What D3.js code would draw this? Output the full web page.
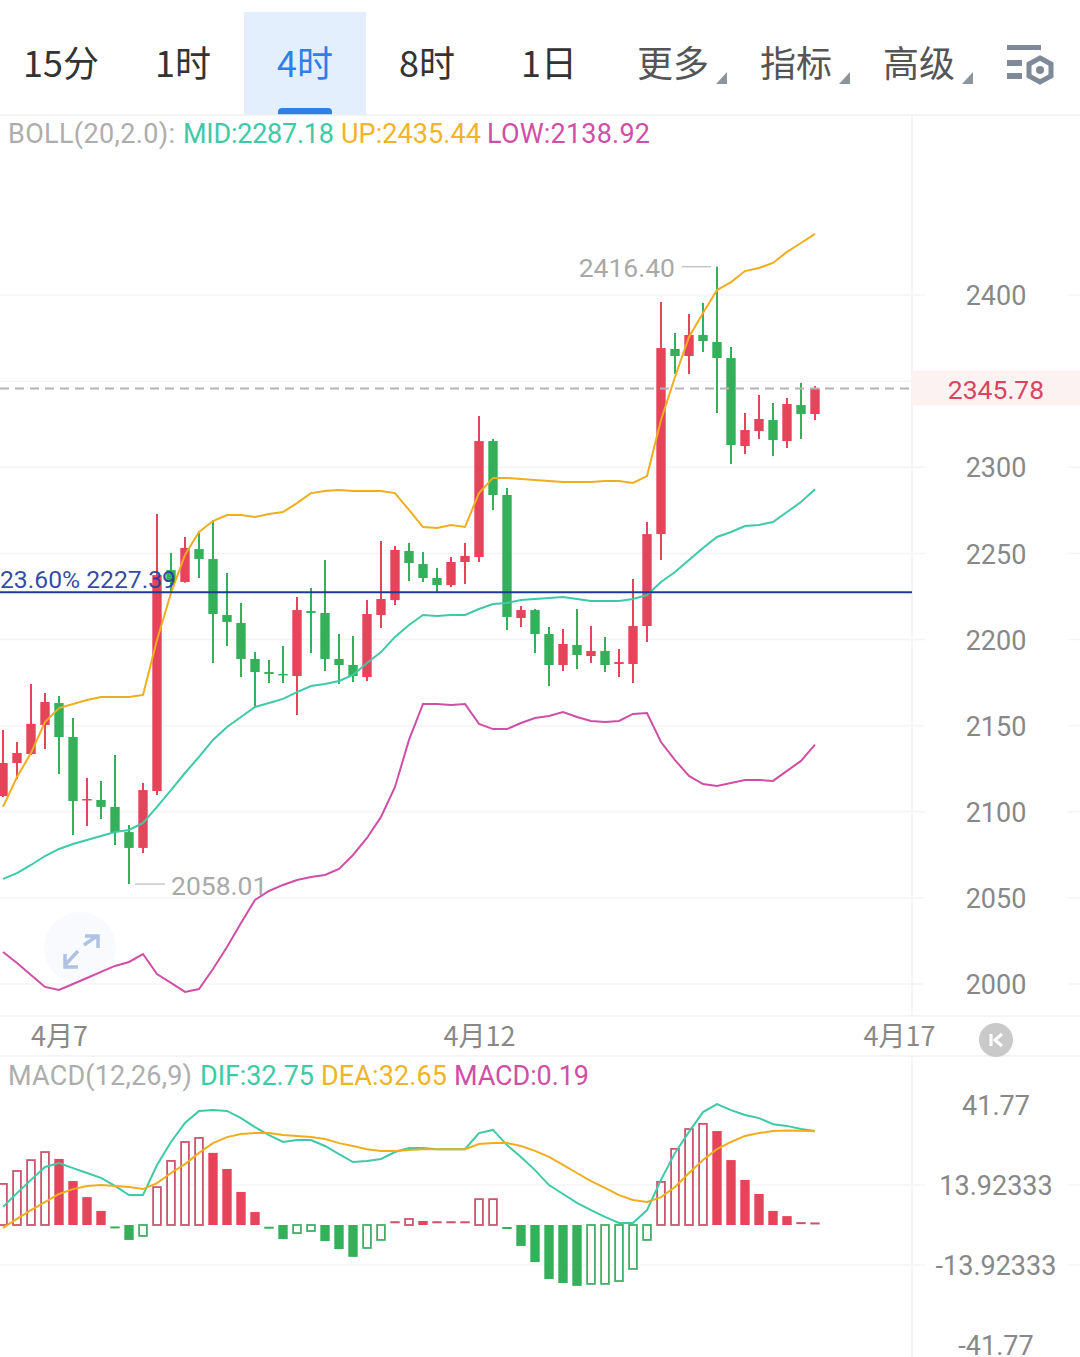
<!DOCTYPE html>
<html lang="zh">
<head>
<meta charset="utf-8">
<script src="https://d3js.org/d3.v7.min.js"></script>
<style>
    body { margin: 0; background: #fff; }
    svg { display: block; }
    text { font-family: Roboto, "Noto Sans CJK SC", sans-serif; }
    .cjk { font-family: "Noto Sans CJK SC", sans-serif; }
    .domain { display: none; }
</style>
</head>
<body>
<div id="chart"></div>
<script>
    // toolbar
    const tabs = ['15分', '1时', '4时', '8时', '1日', '更多', '指标', '高级']
    const activeTab = '4时'
    const menuTabs = ['更多', '指标', '高级']

    // ticks
    const priceTicks = [2000, 2050, 2100, 2150, 2200, 2250, 2300, 2350, 2400]
    const macdTicks = [41.77, 13.92333, -13.92333, -41.77]
    const dateTicks = [4, 34, 64]
    const dateLabels = ['4月7', '4月12', '4月17']

    // 4h candles, oldest first
    const opens = [2109.1, 2128.3, 2133.5, 2150.4, 2163.1, 2143.4, 2106.8, 2106.8, 2102.8, 2088.2, 2079, 2112, 2240.3, 2233.4, 2252.5, 2246.7, 2214.2, 2209.6, 2188.7, 2181.1, 2180, 2178.8, 2216.5, 2215.4, 2188.7, 2185.2, 2178.2, 2214.2, 2222.9, 2251.4, 2243.8, 2235.7, 2231.6, 2245, 2247.9, 2315.2, 2283.9, 2212.5, 2217.1, 2203.2, 2185.2, 2196.8, 2190.4, 2193.3, 2185.8, 2185.8, 2207.8, 2261.2, 2368.7, 2364.6, 2376.8, 2372.7, 2363.4, 2312.3, 2321, 2327.4, 2315.2, 2336.1, 2330.9]
    const closes = [2128.3, 2134.1, 2151, 2163.7, 2143.4, 2106.2, 2107.4, 2102.8, 2088.2, 2079, 2112.6, 2237.4, 2233.4, 2253.1, 2246.7, 2214.8, 2210.2, 2188.7, 2181.1, 2180, 2179.4, 2217.1, 2215.4, 2188.7, 2185.2, 2178.8, 2214.8, 2223.5, 2252, 2244.4, 2235.7, 2231.6, 2245, 2248.5, 2315.2, 2283.9, 2213.1, 2217.1, 2203.2, 2185.2, 2197.4, 2191, 2193.3, 2185.2, 2186.9, 2207.8, 2261.2, 2369.2, 2364.6, 2376.8, 2373.3, 2363.4, 2312.9, 2321.6, 2328, 2315.8, 2336.7, 2330.9, 2345.78]
    const highs = [2147.5, 2140.5, 2174.2, 2169, 2167.2, 2154.4, 2119.6, 2117.9, 2133, 2092.3, 2116.7, 2272.9, 2250.2, 2259.5, 2261.8, 2269.4, 2238.6, 2221.2, 2192.7, 2188.1, 2196.2, 2224.7, 2229.9, 2246.2, 2203.2, 2202, 2222.9, 2257.2, 2254.3, 2256, 2250.8, 2241.5, 2247.9, 2256, 2329.8, 2316.4, 2288, 2219.4, 2217.7, 2207.3, 2206.1, 2217.7, 2207.8, 2201.5, 2194.5, 2235.1, 2268.2, 2395.9, 2377.9, 2389, 2395.4, 2416.4, 2369.8, 2331.5, 2341.9, 2337.3, 2340.2, 2348.9, 2347.2]
    const lows = [2108.6, 2119, 2133, 2136.4, 2121.9, 2086.5, 2091.7, 2095.8, 2080.7, 2058.01, 2076.1, 2109.7, 2227, 2233, 2235.7, 2186.4, 2196.2, 2178.2, 2160.2, 2174.7, 2174.7, 2156.2, 2192.2, 2181.7, 2174.2, 2175.3, 2175.9, 2206.7, 2220, 2234, 2233.4, 2227.6, 2230.5, 2232.2, 2245, 2275.2, 2205.5, 2207.3, 2192.2, 2173, 2181.7, 2182.9, 2186.4, 2181.1, 2178.2, 2174.7, 2198.5, 2246.2, 2354.1, 2354.1, 2366.9, 2331.5, 2301.9, 2307.7, 2316.4, 2306.5, 2311.2, 2316.4, 2327.4]

    // bollinger bands
    const bollUp = [2102.8, 2120.2, 2134.1, 2152.1, 2160.2, 2162.6, 2164.9, 2166.6, 2166.6, 2166.6, 2167.8, 2199.7, 2227, 2249.1, 2262.4, 2268.8, 2272.3, 2272.3, 2271.1, 2272.9, 2274, 2279.2, 2285, 2286.2, 2286.8, 2286.2, 2286.2, 2286.2, 2285, 2275.2, 2265.3, 2264.7, 2266.5, 2265.3, 2285, 2293.8, 2293.8, 2293.2, 2292.6, 2292, 2291.4, 2291.4, 2291.4, 2292, 2292, 2290.9, 2294.9, 2327.4, 2352.4, 2375.6, 2389.6, 2402.9, 2407.5, 2413.9, 2415.7, 2418.6, 2425, 2430.2, 2435.44]
    const bollMid = [2061, 2064.4, 2069.1, 2074.3, 2078.4, 2081.3, 2083.6, 2085.9, 2088.2, 2089.4, 2093.5, 2102.8, 2112.6, 2122.5, 2131.8, 2141.7, 2149.2, 2155, 2160.8, 2163.1, 2165.5, 2169.5, 2173, 2174.2, 2175.9, 2179.4, 2186.4, 2192.7, 2201.5, 2208.4, 2214.2, 2213.6, 2214.2, 2214.2, 2217.7, 2220.6, 2221.2, 2222.9, 2223.5, 2224.1, 2224.7, 2223.5, 2222.4, 2222.4, 2222.4, 2223.5, 2225.8, 2233.4, 2239.2, 2246.2, 2253.1, 2259.5, 2262.4, 2265.9, 2266.5, 2268.2, 2274, 2279.8, 2287.18]
    const bollLow = [2018.6, 2012.2, 2005.2, 1998.3, 1996.5, 2000, 2003.5, 2007, 2010.5, 2012.8, 2017.4, 2005.8, 2000.6, 1995.4, 1997.1, 2008.7, 2021.5, 2035.4, 2048.8, 2054, 2057.5, 2060.4, 2062.1, 2063.3, 2066.8, 2074.9, 2084.8, 2097, 2114.4, 2141.7, 2162.6, 2162.6, 2162, 2162.6, 2151, 2148, 2148, 2151.5, 2154.4, 2155.6, 2157.9, 2155, 2152.7, 2152.1, 2152.7, 2156.8, 2157.3, 2140.5, 2130, 2120.8, 2116.1, 2115, 2116.7, 2118.4, 2118.4, 2117.9, 2123.7, 2129.5, 2138.92]

    // macd
    const macdBars = [14.3, 18.8, 22.6, 25.4, 23, 15.3, 9.7, 4.9, -0.5, -5.2, -3.8, 13.2, 22.3, 28.9, 30.3, 25.1, 19.5, 11.5, 4.5, -0.6, -4.9, -2.8, -2.1, -5.6, -8.4, -11.1, -8, -5.2, 0.6, 2.1, 1.4, 0.6, 0.6, 0.6, 9, 9, -0.7, -7.3, -12.9, -18.8, -20.2, -21.2, -20.5, -20.5, -19.5, -15.3, -5.2, 15, 26.5, 33.4, 35.2, 32.7, 22.6, 15.7, 10.8, 4.9, 3.1, 0.3, 0.19]
    const dif = [6.3, 11.1, 15.7, 20.2, 21.6, 19.8, 18.1, 16.4, 13.6, 10.4, 10.4, 20.9, 28.9, 35.5, 39.7, 40, 39.7, 37.2, 34.1, 31.3, 28.9, 29.6, 29.6, 27.5, 24.7, 21.9, 22.3, 23, 25.4, 26.8, 26.8, 26.4, 26.4, 26.4, 32, 33.1, 27.8, 23.7, 19.1, 13.9, 10.8, 7.7, 5.2, 2.8, 0.7, 0.7, 5.2, 15.7, 25.1, 32.4, 39.3, 42.1, 40, 38.3, 37.2, 35.1, 34.5, 33.4, 32.75]
    const dea = [-1, 2.1, 5.2, 8, 10.8, 12.5, 13.6, 13.9, 13.6, 13.2, 12.5, 14.6, 18.1, 21.2, 25.1, 28.5, 30.6, 31.7, 32, 32, 31.3, 31, 30.6, 29.9, 28.5, 27.5, 26.4, 25.8, 25.8, 26.1, 26.4, 26.4, 26.4, 26.4, 28.2, 28.5, 28.5, 27.5, 25.8, 23.7, 20.9, 18.1, 15.3, 12.9, 10.4, 8.7, 8, 9.7, 13.2, 18.1, 22.6, 26.4, 28.9, 31, 32, 32.7, 32.9, 32.8, 32.65]

    const lastPrice = 2345.78
    const fibPrice = 2227.39
    const maxPrice = 2416.40
    const minPrice = 2058.01

    const RED = '#e6445a', GREEN = '#35b05a', TEAL = '#3ec9a7', ORANGE = '#f0ad1e', PINK = '#d04fa6'
    const GRID = '#f4f4f4', AXIS_TEXT = '#888888'

    const width = 1080, height = 1357, plotRight = 912

    const svg = d3.select('#chart').append('svg')
        .attr('width', width)
        .attr('height', height)

    const x = d3.scaleLinear().domain([0, 58]).range([3, 815])
    const y = d3.scaleLinear().domain([2000, 2400]).range([984, 295])
    const yMacd = d3.scaleLinear().domain([-41.77, 41.77]).range([1345, 1105])

    svg.append('defs').append('clipPath').attr('id', 'plot')
        .append('rect').attr('width', plotRight).attr('height', height)

    // --- toolbar ---
    svg.append('rect').attr('x', 244).attr('y', 12).attr('width', 122).attr('height', 103).attr('fill', '#e3effc')
    svg.append('path').attr('d', 'M278 115v-3a4 4 0 0 1 4-4h46a4 4 0 0 1 4 4v3z').attr('fill', '#2f7fe6')

    const tabX = d3.scalePoint().domain(tabs.slice(0, 5)).range([61, 549])
    const menuX = d3.scalePoint().domain(menuTabs).range([673, 919])
    tabs.forEach(t => {
        const isMenu = menuTabs.includes(t)
        svg.append('text')
            .attr('class', 'cjk')
            .attr('x', isMenu ? menuX(t) : tabX(t))
            .attr('y', 77)
            .attr('text-anchor', 'middle')
            .attr('font-size', 36)
            .attr('fill', t === activeTab ? '#2f7fe6' : isMenu ? '#555' : '#333')
            .text(t)
        if (isMenu) {
            const tx = menuX(t) + 54
            svg.append('path').attr('d', `M${tx - 11} 84L${tx} 72V84Z`).attr('fill', '#8e949c')
        }
    })

    // settings icon
    const icon = svg.append('g').attr('fill', '#7f8a99')
    icon.append('rect').attr('x', 1007).attr('y', 45).attr('width', 34).attr('height', 5)
    icon.append('rect').attr('x', 1007).attr('y', 60).attr('width', 15).attr('height', 6)
    icon.append('rect').attr('x', 1007).attr('y', 73).attr('width', 15).attr('height', 6)
    icon.append('path').attr('d', 'M1040 58L1051 64V76L1040 82L1029 76V64Z')
        .attr('fill', 'none').attr('stroke', '#7f8a99').attr('stroke-width', 5)
    icon.append('circle').attr('cx', 1040).attr('cy', 70).attr('r', 4)

    // --- frame and grid ---
    const frame = [[0, 115, width, 115], [0, 1016, width, 1016], [0, 1056, width, 1056],
        [plotRight, 115, plotRight, 1016], [plotRight, 1056, plotRight, height]]
    svg.append('g').selectAll('line').data(frame).join('line')
        .attr('x1', d => d[0]).attr('y1', d => d[1]).attr('x2', d => d[2]).attr('y2', d => d[3])
        .attr('stroke', '#f1f1f1').attr('stroke-width', 1.5)

    function gridLines(ticks, scale) {
        [[0, 925], [1068, width]].forEach(seg => {
            svg.append('g').selectAll('line').data(ticks).join('line')
                .attr('x1', seg[0]).attr('x2', seg[1])
                .attr('y1', d => scale(d)).attr('y2', d => scale(d))
                .attr('stroke', GRID).attr('stroke-width', 1.5)
        })
    }
    gridLines(priceTicks, y)
    gridLines(macdTicks.slice(1, 3), yMacd)

    // last price tag sits under the axis labels
    svg.append('rect').attr('x', plotRight).attr('y', y(lastPrice) - 18).attr('width', width - plotRight).attr('height', 35).attr('fill', '#fdf2f2')

    function styleAxis(g, size) {
        g.select('.domain').remove()
        g.selectAll('line').remove()
        g.selectAll('text')
            .attr('font-size', size)
            .attr('fill', AXIS_TEXT)
            .attr('text-anchor', 'middle')
    }

    svg.append('g')
        .attr('transform', 'translate(996,1)')
        .call(d3.axisRight(y).tickValues(priceTicks.filter(d => d !== 2350)).tickFormat(d3.format('d')).tickSize(0).tickPadding(0))
        .call(styleAxis, 27)

    svg.append('g')
        .attr('transform', 'translate(996,1)')
        .call(d3.axisRight(yMacd).tickValues(macdTicks).tickFormat(d => String(d)).tickSize(0).tickPadding(0))
        .call(styleAxis, 27)

    svg.append('g')
        .attr('transform', 'translate(0,1037)')
        .call(d3.axisBottom(x).tickValues(dateTicks).tickFormat((d, i) => dateLabels[i]).tickSize(0).tickPadding(0))
        .call(styleAxis, 27)
        .selectAll('text').attr('dy', '0.35em').attr('y', 0).attr('class', 'cjk')

    svg.append('text')
        .attr('x', 996).attr('y', y(lastPrice) + 11)
        .attr('text-anchor', 'middle').attr('font-size', 26.5).attr('fill', '#d9455f')
        .text(lastPrice.toFixed(2))

    // expand button, faint and under the lines
    svg.append('circle').attr('cx', 80).attr('cy', 948).attr('r', 36).attr('fill', '#f8fafd')
    svg.append('path').attr('d', 'M84 945L97 936M85 936H98V948M78 951L65 965M65 954V967H78')
        .attr('fill', 'none').attr('stroke', '#aec2e4').attr('stroke-width', 3.5)

    // --- candles ---
    const candleIdx = d3.range(opens.length)
    const plot = svg.append('g').attr('clip-path', 'url(#plot)')
    const candleColor = i => closes[i] >= opens[i] ? RED : GREEN

    plot.append('g').selectAll('line').data(candleIdx).join('line')
        .attr('x1', x).attr('x2', x)
        .attr('y1', i => y(highs[i])).attr('y2', i => y(lows[i]))
        .attr('stroke', candleColor).attr('stroke-width', 2)

    plot.append('g').selectAll('rect').data(candleIdx).join('rect')
        .attr('x', i => x(i) - 4.7).attr('width', 9.4)
        .attr('y', i => y(Math.max(opens[i], closes[i])))
        .attr('height', i => Math.max(1.5, Math.abs(y(opens[i]) - y(closes[i]))))
        .attr('fill', candleColor)

    const bollLine = d3.line().x((d, i) => x(i)).y(d => y(d))
    ;[[bollUp, ORANGE], [bollMid, TEAL], [bollLow, PINK]].forEach(s => {
        plot.append('path').attr('d', bollLine(s[0]))
            .attr('fill', 'none').attr('stroke', s[1]).attr('stroke-width', 2)
    })

    // last price dashes, fib level
    plot.append('line')
        .attr('x1', 0).attr('x2', plotRight).attr('y1', y(lastPrice)).attr('y2', y(lastPrice))
        .attr('stroke', '#b4b4b4').attr('stroke-width', 2).attr('stroke-dasharray', '9 6')
    plot.append('line')
        .attr('x1', 0).attr('x2', plotRight).attr('y1', y(fibPrice)).attr('y2', y(fibPrice))
        .attr('stroke', '#1f389c').attr('stroke-width', 2)
    svg.append('text')
        .attr('x', 0).attr('y', y(fibPrice) - 4).attr('font-size', 24.7)
        .attr('fill', '#2a3f9e').attr('fill-opacity', 0.95)
        .text('23.60% ' + fibPrice.toFixed(2))

    // max / min markers
    svg.append('text').attr('x', 675).attr('y', y(maxPrice) + 10).attr('text-anchor', 'end')
        .attr('font-size', 26.5).attr('fill', '#a9a9a9').text(maxPrice.toFixed(2))
    svg.append('line').attr('x1', 682).attr('x2', 711).attr('y1', y(maxPrice)).attr('y2', y(maxPrice))
        .attr('stroke', '#b9b9b9').attr('stroke-width', 1.2)
    svg.append('text').attr('x', 171).attr('y', y(minPrice) + 11)
        .attr('font-size', 26.5).attr('fill', '#a9a9a9').text(minPrice.toFixed(2))
    svg.append('line').attr('x1', 135).attr('x2', 165).attr('y1', y(minPrice)).attr('y2', y(minPrice))
        .attr('stroke', '#b9b9b9').attr('stroke-width', 1.2)

    // back to latest button
    svg.append('circle').attr('cx', 996).attr('cy', 1040).attr('r', 17).attr('fill', '#c9c9c9')
    svg.append('path').attr('d', 'M991 1034V1046M1002 1034L995 1040L1002 1046')
        .attr('fill', 'none').attr('stroke', '#fff').attr('stroke-width', 3)

    // --- macd panel ---
    const barIdx = d3.range(macdBars.length)
    const barColor = i => macdBars[i] >= 0 ? RED : GREEN
    const isHollow = i => i === 0 || macdBars[i] >= macdBars[i - 1]
    const isFlat = i => Math.abs(macdBars[i]) < 1

    const macdPlot = svg.append('g').attr('clip-path', 'url(#plot)')
    macdPlot.append('g').selectAll('rect').data(barIdx.filter(i => !isFlat(i))).join('rect')
        .attr('x', i => x(i) - (isHollow(i) ? 3.9 : 4.7))
        .attr('width', i => isHollow(i) ? 7.8 : 9.4)
        .attr('y', i => Math.min(yMacd(macdBars[i]), yMacd(0)))
        .attr('height', i => Math.abs(yMacd(macdBars[i]) - yMacd(0)))
        .attr('fill', i => isHollow(i) ? '#fff' : barColor(i))
        .attr('stroke', i => isHollow(i) ? (macdBars[i] >= 0 ? '#c9566e' : '#45ad68') : 'none')
        .attr('stroke-width', 1.8)
    macdPlot.append('g').selectAll('line').data(barIdx.filter(isFlat)).join('line')
        .attr('x1', i => x(i) - 4.7).attr('x2', i => x(i) + 4.7)
        .attr('y1', i => yMacd(macdBars[i]) + (macdBars[i] < 0 ? 1 : -1))
        .attr('y2', i => yMacd(macdBars[i]) + (macdBars[i] < 0 ? 1 : -1))
        .attr('stroke', i => macdBars[i] >= 0 ? '#cf5069' : GREEN).attr('stroke-width', 2)

    const macdLine = d3.line().x((d, i) => x(i)).y(d => yMacd(d))
    ;[[dif, TEAL], [dea, ORANGE]].forEach(s => {
        macdPlot.append('path').attr('d', macdLine(s[0]))
            .attr('fill', 'none').attr('stroke', s[1]).attr('stroke-width', 2)
    })

    // --- legends ---
    // each part is stretched to the width it has in the app
    function legend(yPos, parts) {
        parts.forEach(p => {
            svg.append('text').attr('y', yPos).attr('font-size', 27)
                .attr('x', p[2]).attr('textLength', p[3]).attr('lengthAdjust', 'spacing')
                .attr('fill', p[1]).text(p[0])
        })
    }
    legend(143, [['BOLL(20,2.0):', '#adadad', 8, 167], ['MID:' + bollMid[58], TEAL, 183, 151], ['UP:' + bollUp[58], '#f0b429', 341, 140], ['LOW:' + bollLow[58], PINK, 487, 163]])
    legend(1085, [['MACD(12,26,9)', '#adadad', 8, 184], ['DIF:' + dif[58], TEAL, 200, 114], ['DEA:' + dea[58], '#f0b429', 321, 126], ['MACD:' + macdBars[58], PINK, 454, 135]])
</script>
</body>
</html>
